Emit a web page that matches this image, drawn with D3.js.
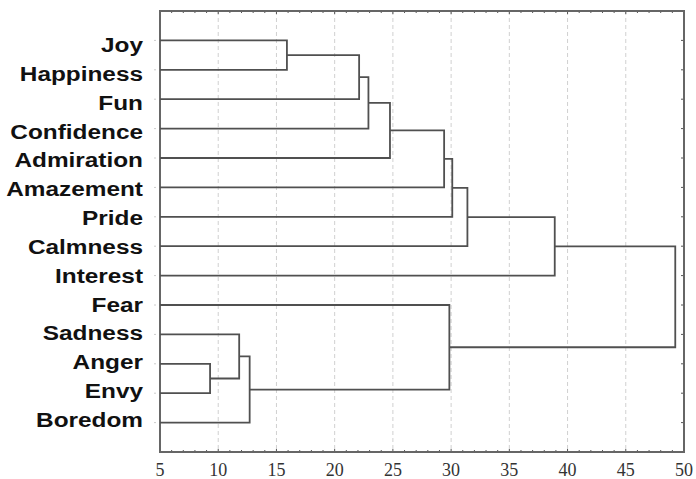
<!DOCTYPE html>
<html><head><meta charset="utf-8">
<script src="https://cdn.jsdelivr.net/npm/d3@7"></script>
<style>html,body{margin:0;padding:0;background:#fff;}</style>
</head><body>
<svg id="c" width="696" height="479"></svg>
<script>
const labels = ["Joy","Happiness","Fun","Confidence","Admiration","Amazement","Pride","Calmness","Interest","Fear","Sadness","Anger","Envy","Boredom"];
// linkage: node ids 0..13 are leaves, 14+ are merges in order
const mergeLeft   = [0, 14, 15, 16, 17, 18, 19, 20, 11, 10, 23, 9, 21];
const mergeRight  = [1, 2, 3, 4, 5, 6, 7, 8, 12, 22, 13, 24, 25];
const mergeHeight = [15.9, 22.1, 22.9, 24.75, 29.4, 30.1, 31.4, 38.9, 9.3, 11.8, 12.7, 29.85, 49.25];
const xTicks = [5,10,15,20,25,30,35,40,45,50];

const svg = d3.select("#c");
const L=160, R=684, T=11, B=452;
const x = d3.scaleLinear().domain([5,50]).range([L,R]);
const y = d3.scalePoint().domain(labels).range([T,B]).padding(1);
const yLab = d3.scalePoint().domain(labels).range([52,427]);

// grid
svg.append("g").selectAll("line").data(xTicks.slice(1,-1)).join("line")
  .attr("x1",d=>x(d)).attr("x2",d=>x(d)).attr("y1",T).attr("y2",B)
  .attr("stroke","#d0d0d0").attr("stroke-width",1).attr("stroke-dasharray","4,3");

// minor ticks top and bottom
const minor = d3.range(5,51,1);
const tg = svg.append("g").attr("stroke","#555").attr("stroke-width",1);
tg.selectAll(".mb").data(minor).join("line")
  .attr("x1",d=>x(d)).attr("x2",d=>x(d)).attr("y1",B).attr("y2",d=>B-(d%5===0?3:2));
tg.selectAll(".mt").data(minor).join("line")
  .attr("x1",d=>x(d)).attr("x2",d=>x(d)).attr("y1",T).attr("y2",d=>T+(d%5===0?3:2));
tg.selectAll(".mr").data(labels).join("line")
  .attr("x1",R).attr("x2",R-3).attr("y1",d=>y(d)).attr("y2",d=>y(d));
svg.append("g").selectAll("line").data(labels).join("line")
  .attr("x1",L-4).attr("x2",L-6).attr("y1",d=>y(d)).attr("y2",d=>y(d))
  .attr("stroke","#ccc").attr("stroke-width",1);

// frame
svg.append("rect").attr("x",L).attr("y",T).attr("width",R-L).attr("height",B-T)
  .attr("fill","none").attr("stroke","#666").attr("stroke-width",2);

// dendrogram
const nodeX = labels.map(()=>x(5));
const nodeY = labels.map(d=>y(d));
const paths = [];
mergeHeight.forEach((h,i)=>{
  const a=mergeLeft[i], b=mergeRight[i];
  const hx = x(h);
  paths.push(`M${nodeX[a]},${nodeY[a]}H${hx}V${nodeY[b]}H${nodeX[b]}`);
  nodeX.push(hx); nodeY.push((nodeY[a]+nodeY[b])/2);
});
svg.append("g").selectAll("path").data(paths).join("path")
  .attr("d",d=>d).attr("fill","none").attr("stroke","#505050").attr("stroke-width",1.8);

// leaf labels
svg.append("g").selectAll("text").data(labels).join("text")
  .attr("transform",d=>`translate(143,${yLab(d)}) scale(1.25,1)`)
  .attr("text-anchor","end")
  .attr("font-family","Liberation Sans, Arial, sans-serif")
  .attr("font-weight","bold").attr("font-size",19.5).attr("fill","#111")
  .text(d=>d);

// x tick labels
svg.append("g").selectAll("text").data(xTicks).join("text")
  .attr("x",d=>x(d)).attr("y",476).attr("text-anchor","middle")
  .attr("font-family","Liberation Serif, Times New Roman, serif")
  .attr("font-size",18).attr("fill","#333")
  .text(d=>d);
</script>
</body></html>
